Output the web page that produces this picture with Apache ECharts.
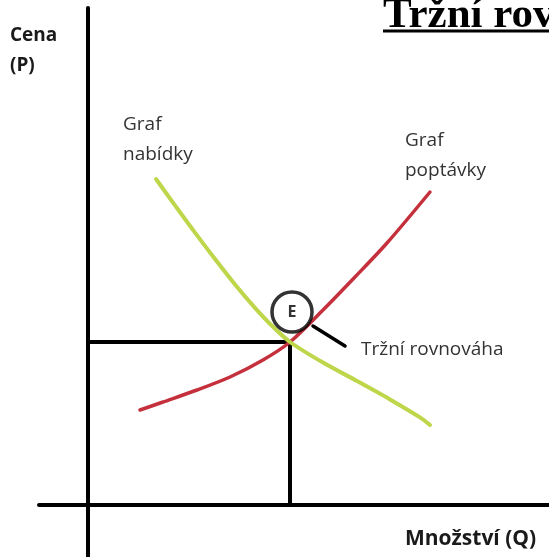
<!DOCTYPE html>
<html>
<head>
<meta charset="utf-8">
<script src="https://cdn.jsdelivr.net/npm/echarts@6/dist/echarts.min.js"></script>
<style>
html,body{margin:0;padding:0;background:#fff;}
#chart{width:549px;height:557px;}
</style>
</head>
<body>
<div id="chart"></div>
<script>
// Axis ranges (arbitrary units, origin = where the axes cross)
const rangeQ = [-1.225, 11.525];
const rangeP = [-1.3, 12.425];

// "Graf nabídky" curve (yellow-green, falling)
const greenQ = [1.70, 2.175, 2.675, 3.175, 3.675, 4.175, 4.60, 5.05, 5.875, 6.725, 7.55, 8.30, 8.55];
const greenP = [8.15, 7.49, 6.81, 6.15, 5.515, 4.93, 4.48, 4.075, 3.56, 3.10, 2.64, 2.19, 2.00];

// "Graf poptávky" curve (red, rising)
const redQ = [1.30, 1.875, 2.725, 3.55, 4.375, 5.05, 5.875, 6.675, 7.475, 8.55];
const redP = [2.375, 2.575, 2.875, 3.20, 3.625, 4.075, 4.875, 5.70, 6.55, 7.825];

// Equilibrium point and its marker
const equilibrium = [5.05, 4.075];
const markerE = [5.1, 4.825];
const leaderQ = [5.625, 6.425];
const leaderP = [4.475, 3.975];

// Texts
const titleText = 'Tržní rovnováha';
const yName = ['Cena', '(P)'];
const xName = 'Množství (Q)';
const greenLabel = ['Graf', 'nabídky'];
const redLabel = ['Graf', 'poptávky'];
const eqLabel = 'Tržní rovnováha';
const eLetter = 'E';

const zip = (a, b) => a.map((v, i) => [v, b[i]]);

const chart = echarts.init(document.getElementById('chart'), null, {renderer: 'canvas'});
const sansFont = '"Open Sans", "Noto Sans", sans-serif';

chart.setOption({
  animation: false,
  backgroundColor: '#ffffff',
  grid: {left: 39, right: 0, top: 8, bottom: 0},
  xAxis: {
    type: 'value', min: rangeQ[0], max: rangeQ[1],
    axisLine: {show: true, onZero: true, lineStyle: {color: '#000', width: 4}},
    axisTick: {show: false}, axisLabel: {show: false}, splitLine: {show: false}
  },
  yAxis: {
    type: 'value', min: rangeP[0], max: rangeP[1],
    axisLine: {show: true, onZero: true, lineStyle: {color: '#000', width: 4}},
    axisTick: {show: false}, axisLabel: {show: false}, splitLine: {show: false}
  },
  series: [
    {
      type: 'line', name: 'guideH', symbol: 'none',
      data: [[0, equilibrium[1]], [equilibrium[0], equilibrium[1]]],
      lineStyle: {color: '#000', width: 4}, z: 2
    },
    {
      type: 'line', name: 'guideV', symbol: 'none',
      data: [[equilibrium[0], equilibrium[1]], [equilibrium[0], 0]],
      lineStyle: {color: '#000', width: 4}, z: 2
    },
    {
      type: 'line', name: 'Graf poptávky', symbol: 'none', smooth: 0.3,
      data: zip(redQ, redP),
      lineStyle: {color: '#c4303c', width: 3.5, cap: 'round'}, z: 3
    },
    {
      type: 'line', name: 'Graf nabídky', symbol: 'none', smooth: 0.3,
      data: zip(greenQ, greenP),
      lineStyle: {color: '#bdd64a', width: 4, cap: 'round'}, z: 4
    },
    {
      type: 'line', name: 'leader', symbol: 'none',
      data: zip(leaderQ, leaderP),
      lineStyle: {color: '#000', width: 3.5, cap: 'round'}, z: 5
    },
    {
      type: 'scatter', name: 'E',
      data: [markerE],
      symbol: 'circle', symbolSize: 40,
      itemStyle: {color: '#ffffff', borderColor: '#000', borderWidth: 3.5},
      label: {show: true, position: 'inside', formatter: eLetter,
              color: '#000', fontWeight: 'bold', fontSize: 16, fontFamily: sansFont},
      z: 6
    }
  ],
  graphic: [
    {
      type: 'text', left: 383, top: -6, z: 10,
      style: {text: titleText, font: 'bold 43px "Liberation Serif", "Times New Roman", serif',
              fill: '#000'}
    },
    {
      type: 'line', z: 10,
      shape: {x1: 383, y1: 31, x2: 560, y2: 31},
      style: {stroke: '#000', lineWidth: 3}
    },
    {
      type: 'text', left: 10, top: 21, z: 10,
      style: {text: yName.join('\n'), font: 'bold 19px ' + sansFont, lineHeight: 30, fill: '#1a1a1a'}
    },
    {
      type: 'text', left: 405, top: 529, z: 10,
      style: {text: xName, font: 'bold 21px ' + sansFont, fill: '#1a1a1a'}
    },
    {
      type: 'text', left: 123, top: 110, z: 10,
      style: {text: greenLabel.join('\n'), font: '19px ' + sansFont, lineHeight: 30, fill: '#333'}
    },
    {
      type: 'text', left: 405, top: 126, z: 10,
      style: {text: redLabel.join('\n'), font: '19px ' + sansFont, lineHeight: 30, fill: '#333'}
    },
    {
      type: 'text', left: 361, top: 335, z: 10,
      style: {text: eqLabel, font: '19px ' + sansFont, lineHeight: 30, fill: '#333'}
    }
  ]
});
</script>
</body>
</html>
